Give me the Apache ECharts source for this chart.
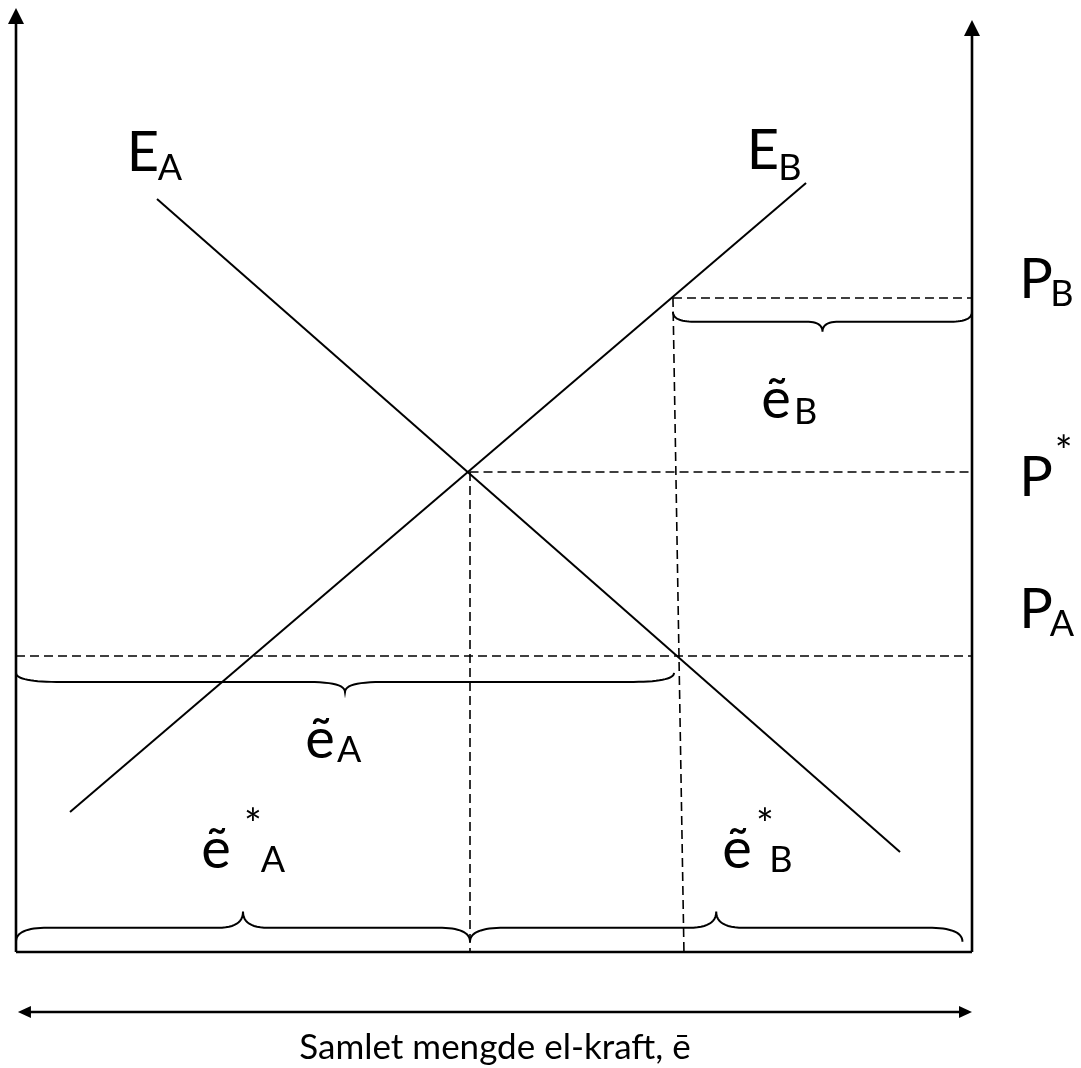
<!DOCTYPE html>
<html><head><meta charset="utf-8">
<script src="https://cdn.jsdelivr.net/npm/echarts@6/dist/echarts.min.js"></script>
<style>html,body{margin:0;padding:0;background:#fff}#c{width:1081px;height:1068px}</style>
</head><body><div id="c"></div>
<script>
// ---- data (quantity 0..100 on x, price 0..100 on y) ----
const curveEA = [[14.75, 79.77], [92.47, 10.59]];   // E_A (falling)
const curveEB = [[5.65, 14.83], [82.64, 81.46]];    // E_B (rising)
const dashPB    = [[68.72, 69.28], [100, 69.28]];
const dashPStar = [[47.44, 50.85], [100, 50.85]];
const dashPA    = [[0, 31.36], [100, 31.36]];
const dashEStar = [[47.49, 50.85], [47.49, 0]];
const dashEB    = [[68.72, 69.28], [69.87, 0]];
// braces: [x1, x2, yEnds, yMid, yTip]
const braces = [
  [68.72, 100, 67.83, 66.77, 65.71],
  [0, 68.83, 29.56, 28.60, 27.54],
  [0, 47.49, 1.09, 2.57, 4.27],
  [47.49, 99.0, 1.09, 2.57, 4.27]
];
// axes: [x1, y1, x2, y2, headStart, headEnd]
const axesLines = [
  [0, 0, 0, 100, 0, 1],
  [100, 0, 100, 98.73, 0, 1],
  [0, 0, 100, 0, 0, 0],
  [0.2, -6.36, 100, -6.36, 1, 1]
];
// annotations: [x, y, text, role]
const annotations = [
  [13.28, 84.64, 'E', 'main'], [16.11, 83.05, 'A', 'sub'],
  [78.14, 84.85, 'E', 'main'], [80.96, 83.05, 'B', 'sub'],
  [106.69, 71.19, 'P', 'main'], [109.41, 69.70, 'B', 'sub'],
  [106.69, 50.21, 'P', 'main'], [109.60, 52.90, '*', 'star'],
  [106.69, 36.23, 'P', 'main'], [109.41, 34.75, 'A', 'sub'],
  [79.50, 58.47, 'ẽ', 'main'], [82.60, 57.20, 'B', 'sub'],
  [31.80, 22.46, 'ẽ', 'main'], [34.85, 21.40, 'A', 'sub'],
  [20.92, 10.81, 'ẽ', 'main'], [24.79, 13.40, '*', 'star'], [26.88, 9.75, 'A', 'sub'],
  [75.42, 10.81, 'ẽ', 'main'], [78.35, 13.40, '*', 'star'], [80.02, 9.75, 'B', 'sub'],
  [50.10, -10.17, 'Samlet mengde el-kraft, ē', 'caption']
];

const FONT = 'Lato, "Open Sans", sans-serif';
const SIZES = {main: 56, sub: 36, star: 42, caption: 35};
const chart = echarts.init(document.getElementById('c'), null, {renderer: 'canvas'});

function quad(p0, p1, p2, n) {
  const out = [];
  for (let i = 0; i <= n; i++) {
    const t = i / n, u = 1 - t;
    out.push([u*u*p0[0] + 2*u*t*p1[0] + t*t*p2[0], u*u*p0[1] + 2*u*t*p1[1] + t*t*p2[1]]);
  }
  return out;
}

function solid(data) {
  return {type: 'line', data: data, showSymbol: false, symbol: 'none', clip: false, silent: true,
    lineStyle: {color: '#000', width: 2}, animation: false};
}
function dashed(data) {
  return {type: 'line', data: data, showSymbol: false, symbol: 'none', clip: false, silent: true,
    lineStyle: {color: '#000', width: 1.6, type: [9, 5]}, animation: false};
}

const option = {
  animation: false,
  backgroundColor: '#fff',
  grid: {left: 16, right: 109, top: 8, bottom: 116},
  xAxis: {type: 'value', min: 0, max: 100, show: false},
  yAxis: {type: 'value', min: 0, max: 100, show: false},
  series: [
    solid(curveEA), solid(curveEB),
    dashed(dashPB), dashed(dashPStar), dashed(dashPA), dashed(dashEStar), dashed(dashEB),
    {
      type: 'custom', silent: true, clip: false,
      data: braces,
      renderItem: function (params, api) {
        const b = braces[params.dataIndex];
        const a = api.coord([b[0], b[2]]), c = api.coord([b[1], b[2]]);
        const ym = api.coord([b[0], b[3]])[1], yt = api.coord([b[0], b[4]])[1];
        const w = c[0] - a[0], re = w * 0.07, rt = w * 0.055, xm = (a[0] + c[0]) / 2;
        let pts = [];
        pts = pts.concat(quad([a[0], a[1]], [a[0], ym], [a[0] + re, ym], 16));
        pts.push([xm - rt, ym]);
        pts = pts.concat(quad([xm - rt, ym], [xm, ym], [xm, yt], 12));
        pts = pts.concat(quad([xm, yt], [xm, ym], [xm + rt, ym], 12));
        pts.push([c[0] - re, ym]);
        pts = pts.concat(quad([c[0] - re, ym], [c[0], ym], [c[0], c[1]], 16));
        return {type: 'polyline', shape: {points: pts}, style: {stroke: '#000', fill: null, lineWidth: 2}};
      }
    },
    {
      type: 'custom', silent: true, clip: false,
      data: axesLines,
      renderItem: function (params, api) {
        const d = axesLines[params.dataIndex];
        const p1 = api.coord([d[0], d[1]]), p2 = api.coord([d[2], d[3]]);
        const vertical = Math.abs(p1[0] - p2[0]) < 1;
        const L = vertical ? 16 : 13, H = vertical ? 8 : 6;
        const children = [];
        const dx = p2[0] - p1[0], dy = p2[1] - p1[1], len = Math.hypot(dx, dy);
        const ux = dx / len, uy = dy / len, nx = -uy, ny = ux;
        let s = p1.slice(), e = p2.slice();
        function head(tip, dirx, diry) {
          const bx = tip[0] - dirx * L, by = tip[1] - diry * L;
          children.push({type: 'polygon', shape: {points: [tip, [bx + nx * H, by + ny * H], [bx - nx * H, by - ny * H]]},
            style: {fill: '#000', stroke: null}});
        }
        if (d[5]) { head(p2, ux, uy); e = [p2[0] - ux * (L - 2), p2[1] - uy * (L - 2)]; }
        if (d[4]) { head(p1, -ux, -uy); s = [p1[0] + ux * (L - 2), p1[1] + uy * (L - 2)]; }
        children.unshift({type: 'line', shape: {x1: s[0], y1: s[1], x2: e[0], y2: e[1]},
          style: {stroke: '#000', lineWidth: vertical || params.dataIndex === 2 ? 2.6 : 2.4}});
        return {type: 'group', children: children};
      }
    },
    {
      type: 'custom', silent: true, clip: false,
      data: annotations.map(a => [a[0], a[1]]),
      renderItem: function (params, api) {
        const a = annotations[params.dataIndex];
        const p = api.coord([a[0], a[1]]);
        return {type: 'text', x: p[0], y: p[1],
          style: {text: a[2], fontSize: SIZES[a[3]], fontFamily: FONT, fill: '#000', align: 'center', verticalAlign: 'middle'}};
      }
    }
  ]
};
chart.setOption(option);
</script>
</body></html>
